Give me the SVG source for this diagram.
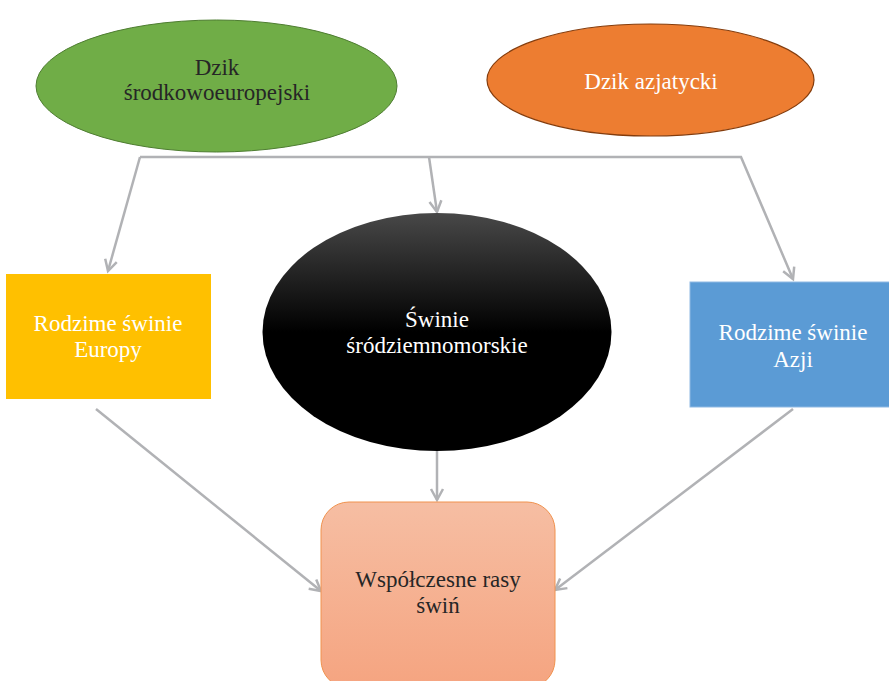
<svg xmlns="http://www.w3.org/2000/svg" width="889" height="681" viewBox="0 0 889 681">
<style>
text{font-family:'Liberation Serif','DejaVu Serif',serif;font-size:23px;text-anchor:middle}
.w{fill:#ffffff}
.d{fill:#262626}
.c{fill:none;stroke:#b1b2b5;stroke-width:2.5}
</style>
<defs>
<marker id="ah" markerUnits="userSpaceOnUse" markerWidth="16" markerHeight="16" viewBox="0 0 16 16" refX="13" refY="8" orient="auto">
<path d="M2,2 L13,8 L2,14" fill="none" stroke="#b1b2b5" stroke-width="2.5"/>
</marker>
<linearGradient id="gBlack" x1="0" y1="0" x2="0" y2="1">
<stop offset="0" stop-color="#484848"/>
<stop offset="0.5" stop-color="#000000"/>
<stop offset="1" stop-color="#000000"/>
</linearGradient>
<linearGradient id="gPeach" x1="0" y1="0" x2="0" y2="1">
<stop offset="0" stop-color="#f6bea3"/>
<stop offset="1" stop-color="#f5a480"/>
</linearGradient>
</defs>
<rect width="889" height="681" fill="#ffffff"/>
<g id="connectors">
<polyline class="c" points="140,157 108,271" marker-end="url(#ah)"/>
<polyline class="c" points="140,157 741,157 793,279" marker-end="url(#ah)"/>
<polyline class="c" points="429,157 437,212" marker-end="url(#ah)"/>
<line class="c" x1="437" y1="451" x2="437" y2="500" marker-end="url(#ah)"/>
<line class="c" x1="96" y1="409" x2="321" y2="591" marker-end="url(#ah)"/>
<line class="c" x1="793" y1="409" x2="555" y2="590" marker-end="url(#ah)"/>
</g>
<g id="dzik-srodkowoeuropejski">
<ellipse cx="216.5" cy="86" rx="180.5" ry="66" fill="#70ad47" stroke="#4e7d31" stroke-width="1"/>
<text class="d" x="217" y="75">Dzik</text>
<text class="d" x="217" y="100">środkowoeuropejski</text>
</g>
<g id="dzik-azjatycki">
<ellipse cx="650.5" cy="80" rx="163.5" ry="56" fill="#ed7d31" stroke="#843c0c" stroke-width="1.2"/>
<text class="w" x="651" y="89">Dzik azjatycki</text>
</g>
<g id="rodzime-europy">
<rect x="6" y="274" width="205" height="125" fill="#ffc000"/>
<text class="w" x="108" y="331">Rodzime świnie</text>
<text class="w" x="108" y="357">Europy</text>
</g>
<g id="swinie-srodziemnomorskie">
<ellipse cx="437" cy="332" rx="174.5" ry="119" fill="url(#gBlack)"/>
<text class="w" x="437" y="327">Świnie</text>
<text class="w" x="437" y="353">śródziemnomorskie</text>
</g>
<g id="rodzime-azji">
<rect x="690" y="282" width="206" height="125" fill="#5b9bd5" stroke="#8fb9e3" stroke-width="1"/>
<text class="w" x="793" y="340">Rodzime świnie</text>
<text class="w" x="793" y="367">Azji</text>
</g>
<g id="wspolczesne-rasy">
<rect x="321" y="502" width="234" height="186" rx="28" ry="28" fill="url(#gPeach)" stroke="#f0924e" stroke-width="1"/>
<text class="d" x="438" y="587">Współczesne rasy</text>
<text class="d" x="438" y="613">świń</text>
</g>
</svg>
